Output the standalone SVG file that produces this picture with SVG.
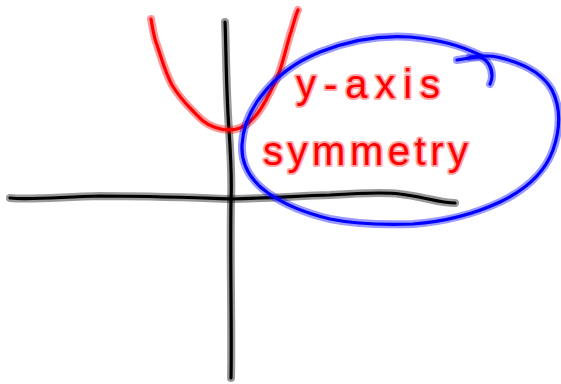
<svg xmlns="http://www.w3.org/2000/svg" width="561" height="384" viewBox="0 0 561 384">
<style>
.halo{fill:none;stroke-linecap:round;stroke-linejoin:round;stroke-width:8;stroke-opacity:0.4}
.core{fill:none;stroke-linecap:round;stroke-linejoin:round;stroke-width:3.2}
.k{stroke:#000}
.r{stroke:#ff0000}
.b{stroke:#0000ff}
.t{font-family:"Liberation Sans","DejaVu Sans",sans-serif;font-size:40px;fill:#ff0000;stroke:#ff0000;stroke-opacity:0.35;stroke-width:4;paint-order:stroke;stroke-linejoin:round}
</style>
<rect width="561" height="384" fill="#fff"/>
<defs>
<path id="vaxis" d="M225,22 C226,40 226,90 229,130 C231,160 232,180 231,200 C230,260 232,330 231,378"/>
<path id="haxis" d="M10,198 C30,200 60,197 100,196 C150,196 200,198 232,199 C270,198 300,196 330,195 C360,193 385,192 400,194 C420,196 440,203 455,203"/>
<path id="parab" d="M151,19 C153,30 154,38 157,45 C162,60 165,72 172,85 C180,98 186,104 192,110 C200,118 205,124 214,127 C222,130 232,131 240,128 C250,124 258,115 266,100 C272,88 276,82 280,70 C285,55 288,40 291,32 C294,22 296,14 298,10"/>
<path id="ellipse" d="M482,56 C460,45 440,40 410,37 C380,35 350,40 320,52 C295,62 275,78 262,95 C250,110 243,125 242,145 C241,165 250,180 268,193 C285,205 305,213 330,219 C355,224 385,225 413,224 C440,222 470,216 500,202 C525,190 545,172 553,150 C560,130 562,110 552,90 C542,72 520,62 497,57 C488,55 480,56 470,57"/>
<path id="hook" d="M457,60 C465,59 472,57 480,57 C488,60 492,68 492,76 C492,79 491,82 490,84"/>
</defs>
<g id="y-axis">
<use href="#vaxis" class="halo k"/><use href="#vaxis" class="core k"/>
</g>
<g id="x-axis">
<use href="#haxis" class="halo k"/><use href="#haxis" class="core k"/>
</g>
<g id="parabola">
<use href="#parab" class="halo r"/><use href="#parab" class="core r"/>
</g>
<g id="circle">
<use href="#ellipse" class="halo b"/><use href="#ellipse" class="core b"/>
<use href="#hook" class="halo b"/><use href="#hook" class="core b"/>
</g>
<g id="label">
<text class="t" x="296" y="98" textLength="144" lengthAdjust="spacing">y-axis</text>
<text class="t" x="263" y="165" textLength="205" lengthAdjust="spacing">symmetry</text>
</g>
</svg>
